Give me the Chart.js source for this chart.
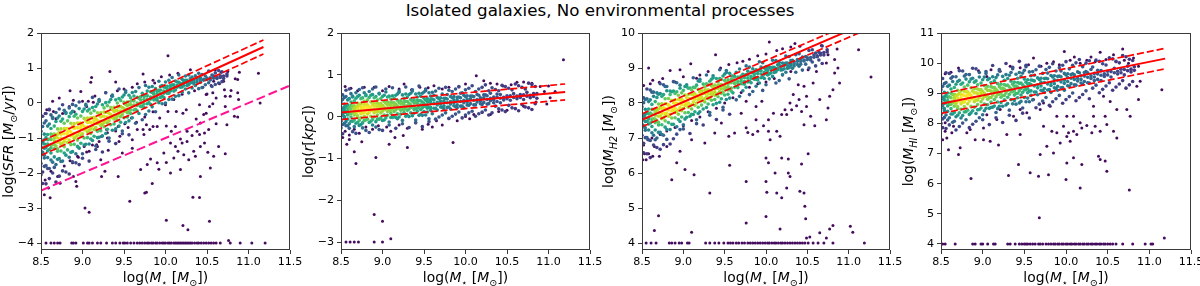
<!DOCTYPE html>
<html><head><meta charset="utf-8">
<script src="https://cdn.jsdelivr.net/npm/chart.js@4/dist/chart.umd.min.js"></script>
<style>
html,body{margin:0;padding:0;background:#fff;width:1200px;height:286px;overflow:hidden;position:relative}
#title{position:absolute;left:0;top:2px;width:1200px;text-align:center;font-family:'DejaVu Sans',sans-serif;font-size:16.7px;line-height:1;color:#000}
.p{position:absolute;top:0;height:286px}
</style></head><body>
<div id="title">Isolated galaxies, No environmental processes</div>
<div class="p" style="left:0;width:320px"><canvas id="c0"></canvas></div>
<div class="p" style="left:300px;width:320px"><canvas id="c1"></canvas></div>
<div class="p" style="left:600px;width:320px"><canvas id="c2"></canvas></div>
<div class="p" style="left:900px;width:300px"><canvas id="c3"></canvas></div>
<script>
// ---------- shared axis values ----------
const massRange = [8.5, 11.5];
const massTicks = [8.5, 9.0, 9.5, 10.0, 10.5, 11.0, 11.5];

// ---------- panel 1 : log SFR ----------
const sfrRange = [-4.2, 2];
const sfrTicks = [-4, -3, -2, -1, 0, 1, 2];
const sfrFloorY = -4;
const sfrFit   = [[8.5,-1.3],[11.18,1.6]];
const sfrFitHi = [[8.5,-1.1],[11.18,1.8]];
const sfrFitLo = [[8.5,-1.5],[11.18,1.4]];
const sfrCut   = [[8.5,-2.5],[11.5,0.5]];
const sfrBand = [
[8.50,-1.25,-1.05,-1.49,-0.81,-1.73,-1.17,-1.37,-2.05],
[8.54,-1.17,-1.29,-0.89,-1.57,-0.57,-1.81,-1.05,-1.49],
[8.58,-1.21,-1.05,-1.37,-0.90,-1.56,-0.66,-1.87,-1.17],
[8.62,-1.04,-1.28,-0.89,-1.43,-0.73,-1.63,-0.34,-1.20],
[8.66,-1.08,-0.89,-1.31,-0.66,-1.54,-1.00,-1.19,-1.84],
[8.70,-1.00,-1.12,-0.74,-1.38,-0.43,-1.61,-0.89,-1.31],
[8.74,-1.04,-0.89,-1.19,-0.74,-1.37,-0.52,-1.67,-1.00],
[8.78,-0.88,-1.10,-0.73,-1.25,-0.58,-1.43,-0.21,-1.02],
[8.82,-0.91,-0.73,-1.13,-0.51,-1.34,-0.84],
[8.86,-0.83,-0.94,-0.58,-1.19,-0.29,-1.41],
[8.90,-0.87,-0.73,-1.01,-0.59,-1.18,-0.38],
[8.94,-0.71,-0.92,-0.57,-1.06,-0.43,-1.24],
[8.98,-0.74,-0.57,-0.94,-0.37,-1.15,-0.67],
[9.02,-0.67,-0.77,-0.44,-1.00,-0.17,-1.20],
[9.06,-0.69,-0.56,-0.83,-0.43,-0.99,-0.23],
[9.10,-0.55,-0.74,-0.42,-0.87,-0.29,-1.03],
[9.14,-0.57,-0.41,-0.76,-0.22,-0.95,-0.51],
[9.18,-0.50,-0.59,-0.28,-0.81,-0.03,-0.99],
[9.22,-0.52,-0.40,-0.64,-0.28,-0.79],
[9.26,-0.38,-0.56,-0.26,-0.68,-0.14],
[9.30,-0.40,-0.26,-0.57,-0.08,-0.75],
[9.34,-0.33,-0.42,-0.13,-0.62,0.10],
[9.38,-0.35,-0.24,-0.46,-0.12,-0.60],
[9.42,-0.22,-0.38,-0.11,-0.49,0.00],
[9.46,-0.23,-0.10,-0.39,0.07,-0.55],
[9.50,-0.16,-0.24,0.02,-0.42,0.23],
[9.54,-0.18,-0.08,-0.28,0.03,-0.40],
[9.58,-0.05,-0.20,0.05,-0.30,0.15],
[9.62,-0.06,0.06,-0.20,0.20],
[9.66,0.00,-0.07,0.16,-0.23],
[9.70,0.00,0.09,-0.10,0.18],
[9.74,0.10,-0.03,0.19,-0.12],
[9.78,0.11,0.21,-0.02,0.34],
[9.82,0.17,0.11,0.32,-0.04],
[9.86,0.17,0.25,0.09,0.33],
[9.90,0.27,0.15,0.34,0.08],
[9.94,0.27,0.37,0.16,0.48],
[9.98,0.34,0.28,0.46,0.16],
[10.02,0.34,0.41,0.28,0.48],
[10.06,0.43,0.34,0.50],
[10.10,0.44,0.52,0.34],
[10.14,0.50,0.45,0.60],
[10.18,0.51,0.56,0.45],
[10.22,0.59,0.50,0.64],
[10.26,0.58,0.65,0.50],
[10.30,0.61,0.57,0.70],
[10.34,0.61,0.66,0.56],
[10.38,0.66,0.59,0.71],
[10.42,0.66,0.72,0.59],
[10.46,0.68,0.65],
[10.50,0.67,0.71],
[10.54,0.72,0.66],
[10.58,0.71,0.77],
[10.62,0.73,0.70],
[10.66,0.73,0.78],
[10.70,0.77,0.70],
[10.74,0.77,0.83]
];
const sfrHalo = [
[8.52,-1.11,-1.41,-0.67,-1.97,-0.38,-2.30],
[8.56,-1.28,-0.99,-1.79,-0.51,-2.31,-0.30],
[8.60,-1.03,-1.33,-0.60,-1.87,-0.18,-2.16],
[8.64,-1.19,-0.90,-1.69,-0.44,-2.00,-0.41],
[8.68,-0.95,-1.23,-0.53,-1.76,-0.27,-2.26],
[8.72,-1.11,-0.83,-1.59,-0.37,-2.09,-0.17],
[8.76,-0.87,-1.15,-0.46,-1.66,-0.05,-1.94],
[8.80,-1.02,-0.74,-1.49,-0.30,-1.97,-0.27],
[8.84,-0.78,-1.06,-0.39,-1.55,-0.14,-2.03],
[8.88,-0.93,-0.67,-1.39,-0.24,-1.68,-0.04],
[8.92,-0.70,-0.97,-0.32,-1.45,-0.08,-1.71],
[8.96,-0.84,-0.58,-1.29,-0.16,-1.76,0.03],
[9.00,-0.62,-0.88,-0.24,-1.45,-1.58],
[9.04,-0.76,-0.51,-1.18,-0.04,-0.07],
[9.08,-0.54,-0.79,-0.18,-1.17,-1.66],
[9.12,-0.66,-0.43,-1.07,-0.13,0.16],
[9.16,-0.45,-0.70,-0.10,-1.23,-1.33],
[9.20,-0.58,-0.35,-0.98,0.10,0.06],
[9.24,-0.38,-0.61,-0.05,-0.94,-1.40],
[9.28,-0.49,-0.27,-0.87,0.01,0.29],
[9.32,-0.29,-0.51,0.03,-1.00,-1.09],
[9.36,-0.41,-0.19,-0.78,0.23,0.19],
[9.40,-0.22,-0.43,0.09,-0.74,-1.16],
[9.44,-0.31,-0.11,-0.66,0.13,0.40],
[9.48,-0.13,-0.33,0.17,-0.80,-0.88],
[9.52,-0.23,-0.04,-0.56,0.35,0.30],
[9.56,-0.05,-0.25,0.22,-0.51,-0.91],
[9.60,0.07,-0.42,0.30],
[9.64,-0.18,0.33,-0.58],
[9.68,0.14,-0.30,0.44],
[9.72,-0.09,0.28,-0.48],
[9.76,0.21,-0.33,0.50],
[9.80,0.01,0.45,-0.23],
[9.84,0.30,-0.11,0.47],
[9.88,0.10,0.41,-0.25],
[9.92,0.36,0.01,0.62],
[9.96,0.19,0.50,-0.02],
[10.00,0.45,0.00,0.60],
[10.04,0.28,0.65,0.10],
[10.08,0.52,0.11,0.73],
[10.12,0.37,0.63,0.19],
[10.16,0.59,0.21,0.80],
[10.20,0.46,0.68,0.31],
[10.24,0.65,0.40,0.77],
[10.28,0.52,0.80,0.29],
[10.32,0.74,0.43],
[10.36,0.50,0.78],
[10.40,0.85,0.41],
[10.44,0.44,0.81],
[10.48,0.77,0.52],
[10.52,0.58,0.91],
[10.56,0.80,0.47],
[10.60,0.53,0.86],
[10.64,0.93,0.57],
[10.68,0.61,0.89]
];
const sfrScatter = [
[10.03,1.35],[9.33,0.90],[9.11,0.73],[9.10,0.59],[9.40,0.60],[9.73,0.83],[9.87,0.57],[8.85,0.35],[8.98,0.33],[8.72,0.14],[8.89,0.08],[9.07,0.05],[9.13,0.02],[8.64,0.05],[8.57,-0.19],[8.65,-0.24],[8.79,-0.26],
[10.67,0.88],[10.89,0.88],[10.87,0.67],[11.12,0.85],[11.14,0.00],[10.79,0.36],[10.87,0.29],[10.57,0.29],[10.49,0.24],[10.61,0.14],[10.72,0.19],[10.88,0.10],[10.72,-0.10],[10.87,-0.40],[10.41,-0.05],[10.57,-0.02],[10.49,-0.29],[10.37,-0.46],[10.25,-0.19],[10.13,-0.24],[10.03,-0.24],[9.93,-0.43],[9.77,-0.62],[9.85,-0.67],[9.73,-0.76],[9.81,-0.76],[9.51,-0.59],[9.59,-0.43],[9.43,-0.67],[9.39,-0.43],[9.29,-0.76],[9.23,-0.95],[9.45,-0.95],[9.17,-1.19],[9.31,-1.35],[9.43,-2.10],[9.27,-1.95],[9.23,-2.10],[9.57,-2.81],[9.03,-3.00],[9.08,-3.12],[8.93,-2.38],[8.92,-2.24],[8.89,-2.10],[8.73,-2.29],[8.61,-2.71],[8.59,-2.43],[8.54,-2.62],[9.75,-2.57],[10.01,-3.35],[10.21,-3.50],[10.27,-3.62],[10.53,-3.38],[10.33,-2.69],[10.41,-2.70],[9.77,-2.55],[9.84,-2.30],[10.76,-3.93],
[9.90,-0.67],[10.01,-0.66],[10.07,-0.81],[10.12,-0.67],[10.21,-0.29],[10.26,-0.81],[10.32,-0.93],[10.38,-0.81],[10.41,-0.90],[10.47,-0.86],[10.52,-0.76],[10.42,-0.57],[10.46,-0.33],[10.53,-0.10],[10.61,-0.59],[10.74,-0.62],[10.83,-0.38],[10.71,0.38],[10.78,0.19],[10.84,0.69],[10.50,0.26],[10.58,0.62],[10.66,0.76],
[10.34,-1.38],[10.26,-1.10],[10.20,-1.14],[10.18,-1.03],[10.12,-1.24],[10.06,-1.14],[9.98,-1.43],[9.90,-1.71],[9.82,-1.60],[9.78,-1.76],[9.92,-1.89],[10.01,-1.70],[10.10,-1.57],[10.15,-1.38],[10.22,-1.48],[10.28,-1.62],[10.36,-1.52],[10.42,-1.24],[10.47,-1.14],[10.51,-1.41],[10.58,-1.52],[10.64,-1.24],[10.72,-1.45],[10.54,-1.86],[10.18,-1.90],[10.06,-2.00],[10.42,-2.10],[9.70,-1.90],
[9.30,-1.00],[9.44,-1.10],[9.60,-1.05],[9.66,-0.76],[9.74,-0.90],[9.48,-1.43],[9.60,-1.29],[9.18,-1.24],[9.08,-1.38],[8.94,-1.52],[8.88,-1.71],[9.02,-1.24],[9.22,-1.62],
[8.55,-0.30],[8.60,-0.20],[8.68,-0.45],[8.76,-0.30],[8.84,-0.10],[8.90,-0.25],[9.00,0.05],[9.05,-0.10],[9.15,0.20],[9.20,0.05],[9.28,0.30],[9.35,0.20],[9.42,0.35],[9.50,0.40],[9.60,0.45],[9.66,0.55],[9.75,0.60],[9.85,0.65],[9.95,0.75],[10.05,0.80],[10.15,0.85],[10.30,0.95],
[8.55,-2.20],[8.62,-1.95],[8.70,-2.10],[8.78,-1.80],[8.85,-1.65],[8.95,-1.55],[9.05,-1.40],[9.12,-1.20],[9.20,-1.10],[9.30,-0.85],[9.40,-0.80],[9.55,-0.70],[9.65,-0.55],[9.75,-0.40],[9.85,-0.25],[10.00,-0.05],[10.10,0.10],[10.20,0.25],[10.35,0.35],[10.45,0.45],[10.55,0.50],[10.65,0.55],[10.70,0.62],[10.75,0.90],[10.60,0.95]
];
const sfrFloor = [8.56,8.62,8.66,8.70,8.73,8.87,8.89,8.92,9.01,9.06,9.08,9.12,9.18,9.22,9.29,9.36,9.40,9.45,9.49,9.51,9.54,9.58,9.62,9.66,9.69,9.72,9.75,9.78,9.80,9.83,9.85,9.88,9.90,9.93,9.96,9.98,10.00,10.03,10.05,10.07,10.10,10.12,10.14,10.16,10.18,10.20,10.22,10.24,10.26,10.28,10.30,10.32,10.35,10.38,10.40,10.43,10.46,10.49,10.52,10.55,10.58,10.61,10.66,10.78,10.90,11.04,11.20];

// ---------- panel 2 : log r ----------
const rRange = [-3.19, 2];
const rTicks = [-3, -2, -1, 0, 1, 2];
const rFloorY = -3;
const rFit   = [[8.5,0.10],[11.2,0.59]];
const rFitHi = [[8.5,0.30],[11.2,0.78]];
const rFitLo = [[8.5,-0.07],[11.2,0.40]];
const rBand = [
[8.50,0.13,0.23,0.01,0.35,-0.11,0.17,0.07,-0.27],
[8.54,0.16,0.10,0.30,-0.04,0.46,-0.16,0.22,0.00],
[8.58,0.12,0.20,0.04,0.28,-0.06,0.40,-0.22,0.14],
[8.62,0.19,0.07,0.27,-0.01,0.35,-0.11,0.55,0.11],
[8.66,0.16,0.26,0.04,0.38,-0.08,0.20,0.10,-0.24],
[8.70,0.18,0.12,0.32,-0.02,0.48,-0.14,0.24,0.02],
[8.74,0.15,0.23,0.07,0.31,-0.03,0.43,-0.19,0.17],
[8.78,0.21,0.09,0.29,0.01,0.37,-0.09,0.57,0.13],
[8.82,0.18,0.28,0.06,0.40,-0.06,0.22],
[8.86,0.21,0.15,0.35,0.01,0.51,-0.11],
[8.90,0.17,0.25,0.09,0.33,-0.01,0.45],
[8.94,0.24,0.12,0.32,0.04,0.40,-0.06],
[8.98,0.21,0.31,0.09,0.43,-0.03,0.25],
[9.02,0.23,0.17,0.36,0.04,0.51,-0.08],
[9.06,0.20,0.28,0.12,0.35,0.03,0.47],
[9.10,0.27,0.15,0.34,0.08,0.42,-0.02],
[9.14,0.23,0.33,0.12,0.44,0.00,0.27],
[9.18,0.26,0.20,0.39,0.07,0.54,-0.05],
[9.22,0.23,0.31,0.15,0.38,0.06],
[9.26,0.29,0.17,0.36,0.10,0.44],
[9.30,0.26,0.36,0.15,0.47,0.03],
[9.34,0.28,0.22,0.41,0.09,0.56],
[9.38,0.25,0.33,0.17,0.40,0.08],
[9.42,0.32,0.20,0.39,0.13,0.47],
[9.46,0.28,0.38,0.17,0.49,0.05],
[9.50,0.31,0.25,0.44,0.12,0.59],
[9.54,0.28,0.36,0.20,0.43,0.11],
[9.58,0.34,0.22,0.41,0.15,0.49],
[9.62,0.31,0.40,0.20,0.51],
[9.66,0.34,0.28,0.46,0.16],
[9.70,0.30,0.37,0.23,0.45],
[9.74,0.37,0.26,0.44,0.19],
[9.78,0.33,0.42,0.22,0.53],
[9.82,0.36,0.30,0.48,0.18],
[9.86,0.33,0.40,0.26,0.48],
[9.90,0.39,0.28,0.46,0.21],
[9.94,0.36,0.45,0.25,0.56],
[9.98,0.39,0.33,0.51,0.21],
[10.02,0.35,0.42,0.28,0.50],
[10.06,0.42,0.31,0.49],
[10.10,0.39,0.48,0.28],
[10.14,0.41,0.35,0.53],
[10.18,0.38,0.45,0.31],
[10.22,0.45,0.34,0.52],
[10.26,0.41,0.50,0.30],
[10.30,0.44,0.38,0.56],
[10.34,0.40,0.47,0.33],
[10.38,0.47,0.36,0.54],
[10.42,0.44,0.53,0.33],
[10.46,0.46,0.40],
[10.50,0.43,0.50],
[10.54,0.50,0.39],
[10.58,0.46,0.55],
[10.62,0.49,0.43],
[10.66,0.46,0.53],
[10.70,0.52,0.41],
[10.74,0.49,0.58],
[10.78,0.51,0.45],
[10.82,0.48,0.55],
[10.86,0.55,0.44]
];
const rHalo = [
[8.52,0.19,0.05,0.41,-0.19,0.52,-0.41],
[8.56,0.10,0.24,-0.12,0.48,-0.22,0.63],
[8.60,0.21,0.07,0.43,-0.17,0.66,-0.28],
[8.64,0.11,0.25,-0.11,0.49,-0.36,0.47],
[8.68,0.22,0.08,0.44,-0.16,0.57,-0.40],
[8.72,0.13,0.27,-0.09,0.51,-0.21,0.65],
[8.76,0.23,0.09,0.45,-0.15,0.69,-0.27],
[8.80,0.14,0.28,-0.08,0.52,-0.33,0.50],
[8.84,0.24,0.10,0.46,-0.14,0.60,-0.38],
[8.88,0.15,0.29,-0.07,0.53,-0.20,0.66],
[8.92,0.26,0.12,0.48,-0.12,0.71,-0.25],
[8.96,0.16,0.30,-0.06,0.54,-0.31,0.56],
[9.00,0.27,0.13,0.48,-0.09,-0.33],
[9.04,0.18,0.32,-0.03,0.59,0.66],
[9.08,0.28,0.14,0.49,-0.13,-0.20],
[9.12,0.19,0.33,-0.02,0.50,0.69],
[9.16,0.30,0.16,0.51,-0.02,-0.28],
[9.20,0.20,0.34,-0.01,0.61,0.58],
[9.24,0.31,0.17,0.52,-0.09,-0.17],
[9.28,0.22,0.36,0.01,0.54,0.71],
[9.32,0.32,0.18,0.53,0.00,-0.26],
[9.36,0.23,0.37,0.02,0.64,0.61],
[9.40,0.33,0.19,0.54,-0.08,-0.14],
[9.44,0.24,0.38,0.03,0.56,0.73],
[9.48,0.35,0.21,0.56,0.03,-0.24],
[9.52,0.25,0.39,0.04,0.66,0.62],
[9.56,0.36,0.22,0.57,-0.05,-0.12],
[9.60,0.42,0.07,0.58],
[9.64,0.20,0.61,-0.06],
[9.68,0.43,-0.01,0.68],
[9.72,0.22,0.54,0.04],
[9.76,0.44,0.09,0.70],
[9.80,0.23,0.63,-0.04],
[9.84,0.45,0.01,0.60],
[9.88,0.24,0.66,0.06],
[9.92,0.47,0.11,0.72],
[9.96,0.25,0.57,-0.03],
[10.00,0.48,0.04,0.64],
[10.04,0.27,0.68,0.09],
[10.08,0.49,0.13,0.74],
[10.12,0.28,0.60,0.01],
[10.16,0.51,0.07,0.66],
[10.20,0.29,0.70,0.11],
[10.24,0.52,0.16,0.76],
[10.28,0.31,0.62,0.04],
[10.32,0.69,0.09],
[10.36,0.25,0.65],
[10.40,0.62,0.19],
[10.44,0.16,0.75],
[10.48,0.72,0.12],
[10.52,0.27,0.68],
[10.56,0.64,0.21],
[10.60,0.19,0.78],
[10.64,0.74,0.14],
[10.68,0.29,0.70],
[10.72,0.66,0.23],
[10.76,0.21,0.80],
[10.80,0.77,0.17],
[10.84,0.31,0.72]
];
const rScatter = [
[8.55,0.72],[8.62,0.68],[8.70,0.62],[8.78,0.70],[8.90,0.70],[9.00,0.62],[9.08,0.72],[9.20,0.66],[9.26,0.78],[9.35,0.64],[9.45,0.70],[9.55,0.69],[9.62,0.74],[9.72,0.66],[9.80,0.70],[9.92,0.71],[10.00,0.78],[10.13,0.98],[10.22,0.86],[10.30,0.80],[10.38,0.78],[10.45,0.73],[10.55,0.76],[10.62,0.82],[10.70,0.83],[10.80,0.80],[10.90,0.72],[11.00,0.73],[11.18,1.36],[10.95,0.60],[11.08,0.60],[10.85,0.35],[10.98,0.30],[11.02,0.45],
[8.55,-0.35],[8.60,-0.44],[8.66,-0.30],[8.72,-0.40],[8.80,-0.25],[8.88,-0.30],[8.95,-0.22],[9.05,-0.25],[9.10,-0.35],[9.20,-0.20],[9.30,-0.28],[9.40,-0.15],[9.48,-0.30],[9.55,-0.18],[9.65,-0.10],[9.72,-0.20],[9.80,-0.05],[9.85,-0.62],[9.90,-0.10],[10.00,0.00],[10.05,-0.05],[10.10,0.05],[10.20,0.10],[10.30,0.05],[10.40,0.12],[10.50,0.15],[10.60,0.20],[10.70,0.25],[9.60,-0.25],[9.25,-0.45],[9.15,-0.50],[9.30,-0.74],[9.08,-0.66],[8.57,-0.66],[8.66,-0.84],[8.68,-1.12],[8.92,-0.98],[8.60,-0.55],[8.75,-0.60],[8.52,-0.50],[8.90,-2.34],[9.00,-2.50],[9.10,-2.92]
];
const rFloor = [8.56,8.61,8.66,8.71,8.90,9.00];

// ---------- panel 3 : log M_H2 ----------
const h2Range = [3.8, 10];
const h2Ticks = [4, 5, 6, 7, 8, 9, 10];
const h2FloorY = 4;
const h2Fit   = [[8.5,7.52],[11.18,10.25]];
const h2FitHi = [[8.5,7.69],[11.18,10.42]];
const h2FitLo = [[8.5,7.32],[11.18,10.06]];
const h2Band = [
[8.50,7.50,7.68,7.29,7.89,7.08,7.57,7.39,6.80],
[8.54,7.58,7.47,7.82,7.22,8.10,7.01,7.68,7.29],
[8.58,7.54,7.69,7.40,7.83,7.23,8.04,6.95,7.58],
[8.62,7.68,7.47,7.82,7.33,7.96,7.15,8.31,7.54],
[8.66,7.65,7.83,7.44,8.04,7.23,7.72,7.54,6.95],
[8.70,7.73,7.62,7.97,7.37,8.25,7.16,7.83,7.44],
[8.74,7.69,7.84,7.55,7.98,7.38,8.19,7.10,7.73],
[8.78,7.84,7.63,7.98,7.49,8.12,7.31,8.47,7.70],
[8.82,7.80,7.95,7.62,8.13,7.44,7.86],
[8.86,7.87,7.78,8.08,7.57,8.32,7.39],
[8.90,7.85,7.97,7.73,8.09,7.58,8.27],
[8.94,7.98,7.80,8.10,7.68,8.22,7.53],
[8.98,7.96,8.11,7.78,8.29,7.60,8.02],
[9.02,8.02,7.93,8.23,7.72,8.47,7.54],
[9.06,8.00,8.12,7.88,8.24,7.73,8.42],
[9.10,8.13,7.95,8.25,7.83,8.37,7.68],
[9.14,8.11,8.26,7.93,8.44,7.75,8.17],
[9.18,8.18,8.09,8.39,7.88,8.63,7.70],
[9.22,8.16,8.25,8.06,8.35,7.94],
[9.26,8.27,8.12,8.36,8.03,8.46],
[9.30,8.26,8.38,8.12,8.52,7.97],
[9.34,8.32,8.25,8.49,8.08,8.68],
[9.38,8.32,8.41,8.22,8.51,8.10],
[9.42,8.42,8.27,8.51,8.18,8.61],
[9.46,8.41,8.53,8.27,8.67,8.12],
[9.50,8.47,8.40,8.64,8.23,8.83],
[9.54,8.47,8.56,8.37,8.66,8.25],
[9.58,8.58,8.43,8.67,8.34,8.77],
[9.62,8.56,8.65,8.45,8.76],
[9.66,8.62,8.56,8.74,8.44],
[9.70,8.62,8.69,8.55,8.77],
[9.74,8.72,8.61,8.79,8.54],
[9.78,8.71,8.80,8.60,8.91],
[9.82,8.76,8.70,8.88,8.58],
[9.86,8.75,8.82,8.68,8.90],
[9.90,8.84,8.73,8.91,8.66],
[9.94,8.83,8.92,8.72,9.03],
[9.98,8.88,8.82,9.00,8.70],
[10.02,8.87,8.94,8.80,9.02],
[10.06,8.95,8.86,9.00],
[10.10,8.95,9.02,8.87],
[10.14,8.99,8.95,9.09],
[10.18,9.00,9.05,8.94],
[10.22,9.07,8.98,9.12],
[10.26,9.07,9.14,8.99],
[10.30,9.11,9.07,9.21],
[10.34,9.12,9.17,9.06],
[10.38,9.19,9.10,9.24],
[10.42,9.19,9.26,9.11],
[10.46,9.23,9.20],
[10.50,9.24,9.29],
[10.54,9.30,9.23],
[10.58,9.31,9.37],
[10.62,9.35,9.32],
[10.66,9.37,9.42],
[10.70,9.44,9.37],
[10.74,9.46,9.52]
];
const h2Halo = [
[8.52,7.63,7.35,8.01,6.85,8.15,6.58],
[8.56,7.48,7.74,7.01,8.12,6.55,8.40],
[8.60,7.71,7.43,8.09,6.93,8.37,6.44],
[8.64,7.55,7.81,7.08,8.19,6.80,8.31],
[8.68,7.78,7.50,8.16,7.00,8.29,6.73],
[8.72,7.63,7.89,7.16,8.27,6.68,8.55],
[8.76,7.86,7.58,8.24,7.08,8.52,6.81],
[8.80,7.71,7.97,7.24,8.35,6.96,8.47],
[8.84,7.91,7.68,8.24,7.24,8.34,6.83],
[8.88,7.79,8.01,7.39,8.34,6.98,8.61],
[8.92,7.99,7.76,8.32,7.32,8.58,7.11],
[8.96,7.87,8.09,7.47,8.42,7.24,8.51],
[9.00,8.06,7.85,8.36,7.38,7.26],
[9.04,7.95,8.15,7.59,8.52,8.47],
[9.08,8.13,7.92,8.43,7.62,7.13],
[9.12,8.03,8.23,7.67,8.45,8.72],
[9.16,8.21,8.00,8.51,7.52,7.41],
[9.20,8.11,8.31,7.75,8.68,8.62],
[9.24,8.27,8.08,8.54,7.83,7.37],
[9.28,8.18,8.36,7.87,8.55,8.80],
[9.32,8.35,8.16,8.62,7.73,7.65],
[9.36,8.26,8.44,7.95,8.78,8.72],
[9.40,8.43,8.24,8.70,7.99,7.53],
[9.44,8.33,8.51,8.02,8.70,8.95],
[9.48,8.50,8.31,8.77,7.88,7.80],
[9.52,8.41,8.59,8.10,8.93,8.87],
[9.56,8.58,8.39,8.85,8.14,7.68],
[9.60,8.66,8.29,8.77],
[9.64,8.47,8.88,8.09],
[9.68,8.73,8.19,8.97],
[9.72,8.55,8.82,8.35],
[9.76,8.81,8.45,9.06],
[9.80,8.62,9.03,8.24],
[9.84,8.87,8.33,8.98],
[9.88,8.68,8.95,8.48],
[9.92,8.93,8.57,9.18],
[9.96,8.74,9.15,8.36],
[10.00,8.96,8.52,9.04],
[10.04,8.83,9.02,8.69],
[10.08,9.02,8.76,9.22],
[10.12,8.89,9.21,8.57],
[10.16,9.08,8.64,9.16],
[10.20,8.95,9.14,8.81],
[10.24,9.14,8.88,9.34],
[10.28,9.01,9.33,8.69],
[10.32,9.22,8.99],
[10.36,8.88,9.38],
[10.40,9.41,9.05],
[10.44,8.94,9.31],
[10.48,9.33,9.11],
[10.52,9.00,9.50],
[10.56,9.52,9.17],
[10.60,9.06,9.43],
[10.64,9.45,9.23],
[10.68,9.13,9.63]
];
const h2Scatter = [
[8.58,9.00],[8.63,8.65],[8.71,8.59],[8.84,8.93],[8.96,8.95],[9.09,9.12],[9.16,8.71],[9.39,9.38],[9.72,9.19],[10.04,9.74],[10.13,9.50],[10.41,9.62],[10.67,9.64],[10.75,9.38],[10.86,9.54],[10.87,9.00],[11.12,9.52],[11.27,8.74],[10.83,8.86],[10.81,8.38],[10.89,8.57],[10.73,9.14],[10.83,9.24],
[10.51,8.95],[10.61,8.90],[10.57,8.57],[10.46,8.48],[10.39,8.52],[10.49,8.19],[10.40,8.10],[10.33,8.24],[10.29,8.00],[10.23,7.81],[10.19,7.67],[10.25,7.67],[10.31,7.81],[10.37,7.92],[10.43,7.76],[10.49,7.90],[10.54,7.62],[10.46,7.38],[10.59,7.35],[10.65,8.10],[10.75,7.86],[10.77,8.19],[10.73,7.52],[10.09,7.71],[10.03,7.52],[9.97,7.35],[9.90,7.19],[9.84,7.10],[9.78,7.16],[9.76,7.29],[9.88,7.52],[10.03,7.19],[10.05,6.95],[10.13,7.19],[10.17,7.05],[9.95,8.05],[9.88,7.90],[9.76,8.05],[9.70,7.71],[9.62,7.14],[9.55,7.05],[9.46,7.43],[9.38,7.14],[9.26,6.86],[9.10,6.95],[8.96,6.62],[9.02,6.10],[9.13,5.95],[8.86,5.81],[8.92,6.29],[8.71,6.48],[8.58,6.55],[8.55,6.38],[8.65,6.76],[8.80,6.76],[9.32,5.43],[9.56,6.22],[9.76,5.76],[10.00,5.76],[10.01,5.45],[10.13,5.43],[10.19,5.29],[10.00,4.76],[10.25,5.57],[10.27,6.00],[10.29,5.90],[10.41,5.48],[10.46,5.43],[10.47,5.05],[10.48,4.69],[10.43,6.26],[10.51,6.55],[10.00,6.43],[10.03,6.29],[10.11,6.00],[10.19,6.43],[10.27,6.40],[9.76,4.57],[10.17,4.40],[8.70,4.78],[8.65,4.36],[9.10,4.31],[10.65,4.29],[10.77,4.40],[10.81,4.50],[10.73,4.14],[11.02,4.48],[11.05,4.31],[10.49,4.14],[10.53,4.17],[8.51,6.38],[8.53,6.55],[8.63,6.48],
[8.52,8.50],[8.60,8.55],[8.75,8.70],[8.90,8.60],[9.00,8.75],[9.20,8.80],[9.30,8.90],[9.45,9.00],[9.55,9.10],[9.65,9.15],[9.80,9.25],[9.90,9.35],[10.00,9.40],[10.20,9.55],[10.30,9.60],[10.35,9.70],
[8.52,6.80],[8.57,6.95],[8.62,7.00],[8.72,7.10],[8.80,7.20],[8.90,7.30],[9.00,7.35],[9.10,7.50],[9.20,7.60],[9.30,7.75],[9.40,7.85],[9.50,8.00],[9.60,8.15],[9.70,8.30],[9.80,8.45],[9.90,8.55],[10.00,8.60],[10.10,8.70],[10.20,8.80],[10.30,8.90]
];
const h2Floor = [8.55,8.61,8.67,8.83,8.86,8.90,8.95,8.98,9.05,9.07,9.27,9.32,9.38,9.43,9.49,9.54,9.57,9.60,9.64,9.67,9.71,9.74,9.78,9.81,9.84,9.87,9.90,9.93,9.96,9.99,10.02,10.04,10.07,10.10,10.12,10.15,10.18,10.20,10.23,10.26,10.29,10.32,10.35,10.38,10.41,10.44,10.47,10.51,10.57,10.63,10.70,10.81,11.19];

// ---------- panel 4 : log M_HI ----------
const hiRange = [3.8, 11];
const hiTicks = [4, 5, 6, 7, 8, 9, 10, 11];
const hiFloorY = 4;
const hiFit   = [[8.5,8.65],[11.19,10.15]];
const hiFitHi = [[8.5,8.98],[11.17,10.48]];
const hiFitLo = [[8.5,8.33],[11.19,9.81]];
const hiBand = [
[8.50,8.72,8.90,8.50,9.12,8.29,8.79,8.61,8.00],
[8.54,8.78,8.67,9.03,8.42,9.32,8.20,8.88,8.49],
[8.58,8.72,8.87,8.58,9.01,8.40,9.23,8.11,8.76],
[8.62,8.85,8.64,9.00,8.49,9.14,8.31,9.50,8.71],
[8.66,8.79,8.97,8.57,9.19,8.36,8.86,8.68,8.07],
[8.70,8.85,8.74,9.10,8.49,9.39,8.27,8.95,8.56],
[8.74,8.79,8.94,8.65,9.08,8.47,9.30,8.18,8.83],
[8.78,8.92,8.71,9.07,8.56,9.21,8.38,9.57,8.78],
[8.82,8.87,9.05,8.65,9.27,8.44,8.94],
[8.86,8.93,8.82,9.18,8.57,9.47,8.35],
[8.90,8.86,9.01,8.72,9.15,8.54,9.37],
[8.94,8.99,8.78,9.14,8.63,9.28,8.45],
[8.98,8.94,9.12,8.72,9.34,8.51,9.01],
[9.02,9.00,8.89,9.25,8.64,9.54,8.42],
[9.06,8.94,9.09,8.80,9.23,8.62,9.45],
[9.10,9.07,8.86,9.22,8.71,9.36,8.53],
[9.14,9.01,9.19,8.79,9.41,8.58,9.08],
[9.18,9.07,8.96,9.32,8.71,9.61,8.49],
[9.22,9.01,9.16,8.87,9.30,8.69],
[9.26,9.14,8.93,9.29,8.78,9.43],
[9.30,9.09,9.27,8.87,9.49,8.66],
[9.34,9.15,9.04,9.40,8.79,9.69],
[9.38,9.08,9.23,8.94,9.37,8.76],
[9.42,9.21,9.00,9.36,8.85,9.50],
[9.46,9.16,9.34,8.94,9.56,8.73],
[9.50,9.22,9.11,9.47,8.86,9.76],
[9.54,9.16,9.31,9.02,9.45,8.84],
[9.58,9.29,9.08,9.44,8.93,9.58],
[9.62,9.24,9.41,9.04,9.60],
[9.66,9.28,9.18,9.51,8.95],
[9.70,9.24,9.37,9.10,9.50],
[9.74,9.36,9.16,9.49,9.03],
[9.78,9.31,9.48,9.11,9.67],
[9.82,9.36,9.26,9.59,9.03],
[9.86,9.32,9.45,9.18,9.58],
[9.90,9.43,9.23,9.56,9.10],
[9.94,9.38,9.55,9.18,9.74],
[9.98,9.43,9.33,9.66,9.10],
[10.02,9.39,9.52,9.25,9.65],
[10.06,9.50,9.32,9.62],
[10.10,9.46,9.61,9.28],
[10.14,9.50,9.41,9.71],
[10.18,9.46,9.58,9.34],
[10.22,9.57,9.39,9.69],
[10.26,9.53,9.68,9.35],
[10.30,9.58,9.49,9.79],
[10.34,9.54,9.66,9.42],
[10.38,9.64,9.46,9.76],
[10.42,9.60,9.75,9.42],
[10.46,9.65,9.56],
[10.50,9.61,9.73],
[10.54,9.72,9.54],
[10.58,9.68,9.83],
[10.62,9.73,9.64],
[10.66,9.68,9.80],
[10.70,9.79,9.61],
[10.74,9.75,9.90],
[10.78,9.80,9.71],
[10.82,9.76,9.88]
];
const hiHalo = [
[8.52,8.84,8.59,9.23,8.15,9.49,7.86],
[8.56,8.68,8.93,8.28,9.36,7.83,9.68],
[8.60,8.88,8.63,9.27,8.19,9.66,7.95],
[8.64,8.71,8.96,8.31,9.39,8.04,9.55],
[8.68,8.91,8.66,9.30,8.22,9.55,7.78],
[8.72,8.75,9.00,8.35,9.43,7.90,9.75],
[8.76,8.95,8.70,9.34,8.26,9.74,8.01],
[8.80,8.79,9.04,8.39,9.47,8.12,9.62],
[8.84,8.99,8.74,9.38,8.30,9.62,7.86],
[8.88,8.82,9.07,8.42,9.50,7.97,9.83],
[8.92,9.02,8.77,9.41,8.33,9.81,8.07],
[8.96,8.86,9.11,8.46,9.54,8.19,9.69],
[9.00,9.06,8.81,9.45,8.29,8.12],
[9.04,8.90,9.15,8.50,9.66,9.72],
[9.08,9.10,8.85,9.49,8.50,7.96],
[9.12,8.94,9.19,8.54,9.55,9.92],
[9.16,9.13,8.88,9.52,8.36,8.19],
[9.20,8.97,9.22,8.57,9.74,9.79],
[9.24,9.17,8.92,9.56,8.57,8.03],
[9.28,9.01,9.26,8.61,9.62,9.99],
[9.32,9.21,8.96,9.60,8.44,8.27],
[9.36,9.05,9.30,8.65,9.81,9.86],
[9.40,9.24,8.99,9.63,8.64,8.10],
[9.44,9.08,9.33,8.68,9.69,10.06],
[9.48,9.28,9.03,9.67,8.51,8.34],
[9.52,9.12,9.37,8.72,9.88,9.93],
[9.56,9.32,9.07,9.71,8.72,8.18],
[9.60,9.43,8.78,9.72],
[9.64,9.04,9.78,8.52],
[9.68,9.46,8.64,9.90],
[9.72,9.08,9.66,8.74],
[9.76,9.50,8.86,9.79],
[9.80,9.12,9.86,8.60],
[9.84,9.54,8.72,9.98],
[9.88,9.16,9.74,8.82],
[9.92,9.57,8.93,9.85],
[9.96,9.19,9.93,8.67],
[10.00,9.61,8.79,10.05],
[10.04,9.23,9.81,8.89],
[10.08,9.65,9.01,9.93],
[10.12,9.27,10.01,8.75],
[10.16,9.68,8.86,10.12],
[10.20,9.30,9.88,8.96],
[10.24,9.72,9.08,10.00],
[10.28,9.34,10.08,8.82],
[10.32,9.87,9.17],
[10.36,9.27,10.10],
[10.40,10.06,9.02],
[10.44,9.13,9.98],
[10.48,9.94,9.24],
[10.52,9.35,10.18],
[10.56,10.14,9.10],
[10.60,9.21,10.06],
[10.64,10.01,9.31],
[10.68,9.42,10.25],
[10.72,10.21,9.17],
[10.76,9.28,10.13],
[10.80,10.09,9.39]
];
const hiScatter = [
[8.71,9.84],[8.84,9.62],[9.05,9.56],[9.21,9.73],[9.33,9.90],[9.61,10.17],[9.77,10.00],[9.98,10.39],[10.17,10.00],[10.41,10.36],[10.57,10.28],[10.68,10.47],[10.81,10.17],[10.87,9.90],[10.89,9.40],[10.85,9.23],[10.87,8.79],[11.15,9.12],[10.73,8.46],[10.77,8.24],[10.61,8.46],[10.53,8.73],[10.45,8.90],[10.33,8.57],
[8.55,9.65],[8.62,9.70],[8.95,9.75],[9.10,9.78],[9.45,9.85],[9.55,9.95],[9.70,9.90],[9.85,10.05],[9.92,9.95],[10.05,10.10],[10.10,10.20],[10.25,10.10],[10.30,10.20],[10.35,10.05],[10.48,10.12],[10.60,10.05],[10.70,10.10],[10.75,10.00],
[10.09,8.24],[10.01,8.24],[10.17,8.02],[10.19,7.85],[10.25,7.93],[10.31,7.69],[10.35,7.91],[10.41,7.74],[10.47,8.24],[10.49,7.96],[10.61,7.52],[10.01,7.57],[10.03,7.69],[10.05,7.41],[10.09,7.74],[10.13,7.63],[9.97,7.91],[9.93,7.35],[9.89,7.69],[9.73,7.91],[9.83,7.74],[9.77,7.24],[9.85,7.02],[9.69,6.97],[9.67,6.25],[9.79,6.30],[10.01,6.69],[10.09,6.86],[10.19,6.64],[10.00,6.14],[10.17,5.86],[10.41,6.80],[10.47,6.75],[10.49,6.41],[10.39,6.91],[10.57,7.74],[10.33,8.24],[9.43,6.64],[9.31,6.27],[9.29,7.63],[9.45,7.63],[9.57,6.36],[9.19,7.28],[9.09,7.41],[9.01,7.46],[8.91,7.46],[8.73,7.19],[8.57,7.52],[8.71,6.97],[8.59,7.13],[8.86,6.17],[9.68,4.87],[10.76,5.79],[8.52,7.46],[8.55,7.74],[8.63,7.69],[8.81,7.69],
[8.55,8.02],[8.65,7.91],[8.85,7.80],[9.01,7.85],[9.17,8.13],[9.37,8.24],[9.53,8.35],[9.69,8.46],[9.81,8.57],[9.89,8.24],[9.21,8.46],[9.05,8.29],[9.45,8.46],[9.61,8.79],[9.73,8.68],[11.18,4.20]
];
const hiFloor = [8.52,8.55,8.67,8.88,8.91,8.98,9.00,9.06,9.13,9.15,9.30,9.33,9.39,9.44,9.47,9.50,9.52,9.54,9.57,9.60,9.63,9.67,9.69,9.72,9.76,9.79,9.82,9.85,9.87,9.90,9.92,9.95,9.97,10.00,10.02,10.05,10.07,10.10,10.12,10.15,10.17,10.20,10.22,10.25,10.27,10.30,10.32,10.35,10.37,10.40,10.42,10.45,10.47,10.50,10.53,10.56,10.60,10.68,10.80,10.95,11.02,11.04];

// ---------- styling / drawing ----------
const FONT = "'DejaVu Sans', sans-serif";
const VIR = ['#440154','#482475','#414487','#355f8d','#2a788e','#21918c','#22a884','#44bf70','#7ad151','#bddf26','#fde725'];
function hexRgb(h){return [parseInt(h.slice(1,3),16),parseInt(h.slice(3,5),16),parseInt(h.slice(5,7),16)];}
function viridis(t){
  t=Math.max(0,Math.min(1,t));
  const f=t*10, i=Math.min(9,Math.floor(f)), u=f-i;
  const a=hexRgb(VIR[i]), b=hexRgb(VIR[i+1]);
  return 'rgb('+a.map((v,k)=>Math.round(v+(b[k]-v)*u)).join(',')+')';
}
const pairs = arr => arr.map(p => ({x:p[0], y:p[1]}));
function bandPoints(rows){const out=[];for(const r of rows){for(let k=1;k<r.length;k++)out.push({x:r[0],y:r[k]});}return out;}
// gaussian KDE in screen space -> viridis colour; dense points drawn last (as in a density-coloured scatter)
function densitySorted(pts, xr, yr){
  const sx=249/(xr[1]-xr[0]), sy=217/(yr[1]-yr[0]), h2=2*13*13;
  const P=pts.map(p=>[p.x*sx,p.y*sy]);
  const d=P.map(a=>{let s=0;for(const b of P){const dx=a[0]-b[0],dy=a[1]-b[1];s+=Math.exp(-(dx*dx+dy*dy)/h2);}return s;});
  const lo=Math.min(...d), hi=Math.max(...d);
  const idx=pts.map((p,i)=>i).sort((a,b)=>d[a]-d[b]);
  return {pts: idx.map(i=>pts[i]), cols: idx.map(i=>viridis(0.15+0.85*Math.pow((d[i]-lo)/(hi-lo),1.8)))};
}

function drawRich(ctx, segs, cx, cy, rot){
  const S=13.9, SUB=9.7;
  const fontOf=s=>(s.it?'italic ':'')+(s.sub?SUB:S)+'px '+FONT;
  let w=0; for(const s of segs){ctx.font=fontOf(s); w+=ctx.measureText(s.t).width;}
  ctx.save(); ctx.translate(cx,cy); ctx.rotate(rot);
  ctx.textAlign='left'; ctx.textBaseline='alphabetic'; ctx.fillStyle='#000';
  let x=-w/2;
  for(const s of segs){ctx.font=fontOf(s); ctx.fillText(s.t,x,s.sub?3.2:0); x+=ctx.measureText(s.t).width;}
  ctx.restore();
}
const decorPlugin = {
  id:'decor',
  afterDatasetsDraw(chart){
    const {ctx, chartArea:a}=chart;
    ctx.save(); ctx.strokeStyle='#3a3a3a'; ctx.lineWidth=1;
    ctx.strokeRect(Math.round(a.left)+0.5, Math.round(a.top)+0.5, Math.round(a.right-a.left)-1, Math.round(a.bottom-a.top)-1);
    ctx.restore();
  },
  afterDraw(chart, args, o){
    const {ctx, chartArea:a}=chart;
    drawRich(ctx, o.xTitle, (a.left+a.right)/2, 282.3, 0);
    drawRich(ctx, o.yTitle, 13.3, (a.top+a.bottom)/2, -Math.PI/2);
  }
};
const xTitle=[{t:'log('},{t:'M',it:1},{t:'\u22C6',sub:1},{t:' ['},{t:'M',it:1},{t:'\u2299',sub:1},{t:'])'}];

function line(data, color, width, dash){
  return {type:'scatter', data:pairs(data), showLine:true, borderColor:color, borderWidth:width, borderDash:dash||[],
          pointRadius:0, fill:false, order:0, clip:0};
}
function makePanel(id, p){
  const band = densitySorted(bandPoints(p.band).concat(bandPoints(p.halo)), massRange, p.range);
  const purple = viridis(0.03);
  const floorPts = p.floor.map(x=>({x:x, y:p.floorY}));
  const datasets = [
    {data: pairs(p.scatter).concat(floorPts), pointRadius:1.5, pointBorderWidth:0, pointBackgroundColor:purple, order:2},
    {data: band.pts, pointRadius:1.8, pointBorderWidth:0, pointBackgroundColor:band.cols, order:1},
    line(p.fit,'#ff0000',2),
    line(p.fitHi,'#ff0000',1.7,[7,3]),
    line(p.fitLo,'#ff0000',1.7,[7,3])
  ];
  if(p.cut) datasets.push(line(p.cut,'#ff1493',2,[9,4]));
  const tickFont={family:FONT,size:11.1};
  new Chart(document.getElementById(id), {
    type:'scatter',
    data:{datasets},
    plugins:[decorPlugin],
    options:{
      responsive:true, maintainAspectRatio:false, animation:false, devicePixelRatio:1, events:[],
      layout:{padding:{left:0, top:33, right:p.padRight, bottom:0}},
      plugins:{legend:{display:false}, tooltip:{enabled:false}, decor:{xTitle:xTitle, yTitle:p.yTitle}},
      scales:{
        x:{type:'linear', min:massRange[0], max:massRange[1],
           afterBuildTicks:s=>{s.ticks=massTicks.map(v=>({value:v}));},
           ticks:{font:tickFont, color:'#000', padding:1, maxRotation:0, autoSkip:false, callback:v=>Number(v).toFixed(1)},
           grid:{drawOnChartArea:false, drawTicks:true, tickLength:4, color:'#3a3a3a'},
           border:{display:false},
           afterFit:s=>{s.height=36; s.paddingLeft=0; s.paddingRight=0;}},
        y:{type:'linear', min:p.range[0], max:p.range[1],
           afterBuildTicks:s=>{s.ticks=p.ticks.map(v=>({value:v}));},
           ticks:{font:tickFont, color:'#000', padding:3, autoSkip:false, callback:v=>String(v).replace('-','\u2212')},
           grid:{drawOnChartArea:false, drawTicks:true, tickLength:4, color:'#3a3a3a'},
           border:{display:false},
           afterFit:s=>{s.width=p.yWidth; s.paddingTop=0; s.paddingBottom=0;}}
      }
    }
  });
}

makePanel('c0',{band:sfrBand, halo:sfrHalo, scatter:sfrScatter, floor:sfrFloor, floorY:sfrFloorY, range:sfrRange, ticks:sfrTicks,
  fit:sfrFit, fitHi:sfrFitHi, fitLo:sfrFitLo, cut:sfrCut, yWidth:41, padRight:30,
  yTitle:[{t:'log('},{t:'SFR',it:1},{t:' ['},{t:'M',it:1},{t:'\u2299',sub:1},{t:'/'},{t:'yr',it:1},{t:'])'}]});
makePanel('c1',{band:rBand, halo:rHalo, scatter:rScatter, floor:rFloor, floorY:rFloorY, range:rRange, ticks:rTicks,
  fit:rFit, fitHi:rFitHi, fitLo:rFitLo, yWidth:41, padRight:30,
  yTitle:[{t:'log('},{t:'r',it:1},{t:'['},{t:'kpc',it:1},{t:'])'}]});
makePanel('c2',{band:h2Band, halo:h2Halo, scatter:h2Scatter, floor:h2Floor, floorY:h2FloorY, range:h2Range, ticks:h2Ticks,
  fit:h2Fit, fitHi:h2FitHi, fitLo:h2FitLo, yWidth:42, padRight:30,
  yTitle:[{t:'log('},{t:'M',it:1},{t:'H2',it:1,sub:1},{t:' ['},{t:'M',it:1},{t:'\u2299',sub:1},{t:'])'}]});
makePanel('c3',{band:hiBand, halo:hiHalo, scatter:hiScatter, floor:hiFloor, floorY:hiFloorY, range:hiRange, ticks:hiTicks,
  fit:hiFit, fitHi:hiFitHi, fitLo:hiFitLo, yWidth:41, padRight:9,
  yTitle:[{t:'log('},{t:'M',it:1},{t:'HI',it:1,sub:1},{t:' ['},{t:'M',it:1},{t:'\u2299',sub:1},{t:'])'}]});
</script>
</body></html>
